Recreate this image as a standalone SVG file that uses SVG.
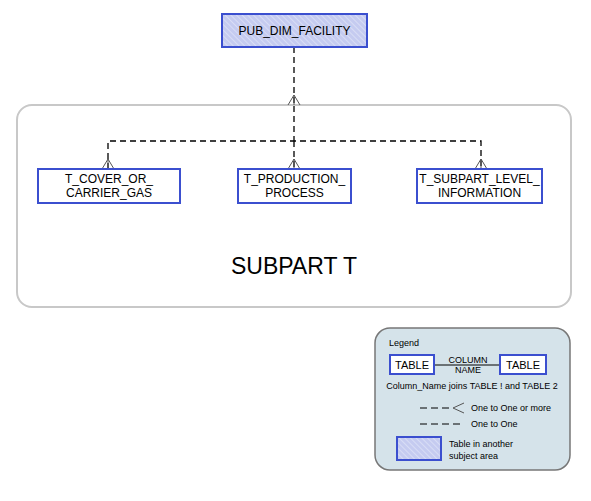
<svg xmlns="http://www.w3.org/2000/svg" width="591" height="501" viewBox="0 0 591 501">
<defs>
<pattern id="hatch" width="4" height="4" patternUnits="userSpaceOnUse" patternTransform="rotate(-45)">
<rect width="4" height="4" fill="#c5cbf0"/>
<line x1="0" y1="0" x2="0" y2="4" stroke="#e6e9fa" stroke-width="1.2"/>
</pattern>
</defs>
<style>
text{font-family:"Liberation Sans",Arial,sans-serif;fill:#000}
.tbl{fill:#fff;stroke:#3b4fcf;stroke-width:2}
.ext{fill:url(#hatch);stroke:#3b4fcf;stroke-width:2}
.lbl{font-size:12px;text-anchor:middle}
.dash{fill:none;stroke:#000;stroke-width:1.3;stroke-dasharray:6,4}
.crow{fill:none;stroke:#555;stroke-width:1}
.lg{font-size:9px}
</style>
<rect x="17" y="105" width="554" height="202" rx="15" fill="#fff" stroke="#c8c8c8" stroke-width="2"/>
<g id="connectors">
<path class="dash" d="M294,47 V105"/>
<path class="crow" d="M288,105 L294,95 L300,105 M294,95 V105"/>
<path class="dash" d="M294,106 V141 M108,169 V141 H481 V169 M294,141 V169"/>
<path class="crow" d="M102,169 L108,159 L114,169 M108,159 V169"/>
<path class="crow" d="M288,169 L294,159 L300,169 M294,159 V169"/>
<path class="crow" d="M475,169 L481,159 L487,169 M481,159 V169"/>
</g>
<g id="PUB_DIM_FACILITY">
<rect class="ext" x="222" y="14" width="145" height="33"/>
<text class="lbl" x="294.5" y="35">PUB_DIM_FACILITY</text>
</g>
<g id="T_COVER_OR_CARRIER_GAS">
<rect class="tbl" x="38" y="169" width="142" height="34"/>
<text class="lbl" x="109" y="183">T_COVER_OR_</text>
<text class="lbl" x="109" y="197">CARRIER_GAS</text>
</g>
<g id="T_PRODUCTION_PROCESS">
<rect class="tbl" x="238" y="169" width="113" height="34"/>
<text class="lbl" x="294.5" y="183">T_PRODUCTION_</text>
<text class="lbl" x="294.5" y="197">PROCESS</text>
</g>
<g id="T_SUBPART_LEVEL_INFORMATION">
<rect class="tbl" x="417" y="169" width="125" height="34"/>
<text class="lbl" x="479.5" y="183">T_SUBPART_LEVEL_</text>
<text class="lbl" x="479.5" y="197">INFORMATION</text>
</g>
<text x="294" y="274" font-size="23" text-anchor="middle">SUBPART T</text>
<g id="legend">
<rect x="375" y="328" width="195" height="142" rx="15" fill="#d5e3ea" stroke="#777" stroke-width="1.5"/>
<text class="lg" x="389" y="346">Legend</text>
<rect class="tbl" x="390" y="355" width="44" height="19"/>
<text x="412" y="369" font-size="11" text-anchor="middle">TABLE</text>
<rect class="tbl" x="500" y="355" width="46" height="19"/>
<text x="523" y="369" font-size="11" text-anchor="middle">TABLE</text>
<path d="M435,365 H499" stroke="#000" stroke-width="1"/>
<text class="lg" x="468" y="363" text-anchor="middle">COLUMN</text>
<text class="lg" x="468" y="373" text-anchor="middle">NAME</text>
<text class="lg" x="472" y="389" text-anchor="middle">Column_Name joins TABLE ! and TABLE 2</text>
<path d="M420,408 H453" fill="none" stroke="#000" stroke-width="1" stroke-dasharray="7,4"/>
<path class="crow" d="M464,403 L453,408 L464,413"/>
<text class="lg" x="471" y="411">One to One or more</text>
<path d="M420,424 H464" fill="none" stroke="#000" stroke-width="1" stroke-dasharray="7,4"/>
<text class="lg" x="471" y="427">One to One</text>
<rect class="ext" x="397" y="437" width="44" height="23"/>
<text class="lg" x="449" y="447">Table in another</text>
<text class="lg" x="449" y="459">subject area</text>
</g>
</svg>
